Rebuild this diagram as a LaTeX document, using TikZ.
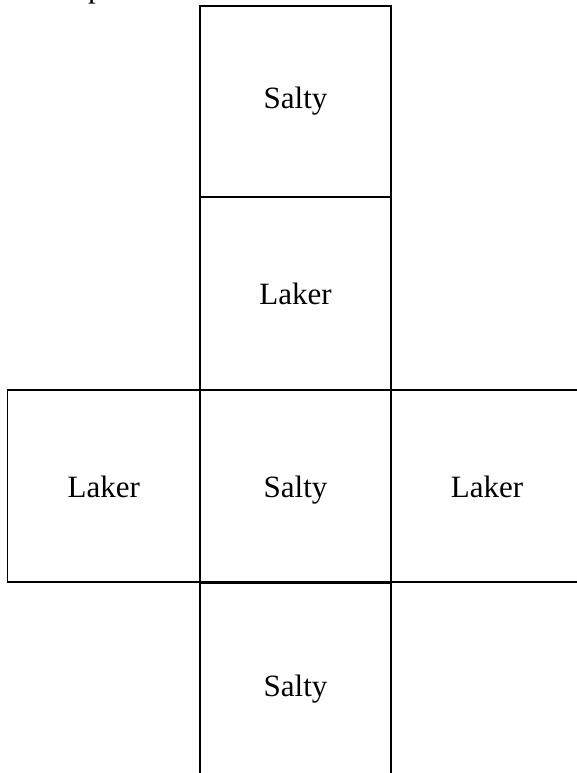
\documentclass[tikz,border=0pt]{standalone}
\usepackage{fontspec}
\setmainfont{Liberation Serif}
\begin{document}
\begin{tikzpicture}[x=1pt,y=-1pt,
  cell/.style={draw=black, line width=1.8pt, rectangle, inner sep=0pt,
    minimum width=191pt, minimum height=192pt, anchor=center,
    text height=22pt, text depth=0pt,
    font=\fontsize{31}{37}\selectfont},
  frag/.style={inner sep=0pt, anchor=base west, font=\fontsize{31}{37}\selectfont}]
\useasboundingbox (0,0) rectangle (577,773);
\clip (0,0) rectangle (577,773);
\node[frag] (p) at (88,-2.5) {p};
\node[cell, minimum height=191pt, text height=15pt] (top) at (295.5,101.5) {Salty};
\node[cell, minimum height=193pt] (upper) at (295.5,293.5) {Laker};
\node[cell] (mid) at (295.5,486) {Salty};
\node[cell, minimum width=192.5pt] (left) at (103.75,486) {Laker};
\node[cell, minimum width=192pt] (right) at (487,486) {Laker};
\node[cell, text height=35pt] (bottom) at (295.5,679) {Salty};
\end{tikzpicture}
\end{document}
